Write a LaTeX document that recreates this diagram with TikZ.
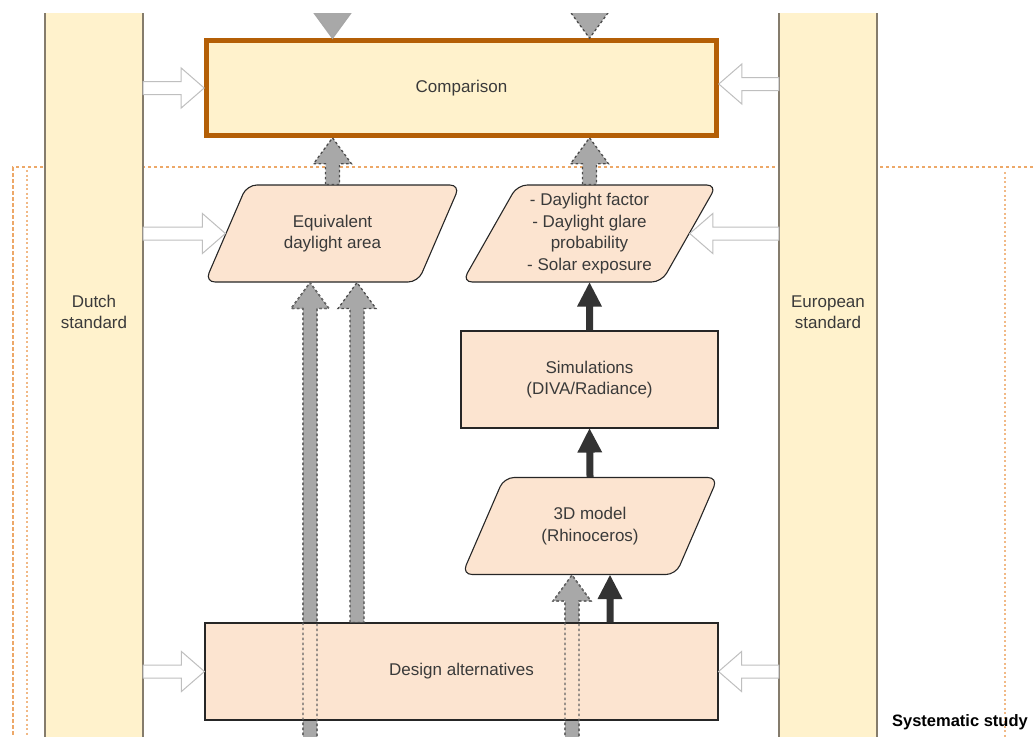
\documentclass[tikz,border=0pt]{standalone}
\usepackage{fontspec}
\setmainfont{Liberation Sans}
\usetikzlibrary{shapes, calc}
\definecolor{barfill}{HTML}{FFF2CC}
\definecolor{barline}{HTML}{857C6C}
\definecolor{peach}{HTML}{FCE4D0}
\definecolor{rust}{HTML}{B45F06}
\definecolor{sysorange}{HTML}{EDA868}
\definecolor{txt}{HTML}{3A3A3A}
\definecolor{darkarrow}{HTML}{333333}
\definecolor{grayarrow}{HTML}{A8A8A8}
\tikzset{block/.style n args={3}{to path={
    let \p1=(\tikztostart), \p2=(\tikztotarget), \p3=($(\p2)!#3!(\p1)$) in
    ($(\p1)!#1!90:(\p2)$) -- ($(\p3)!#1!90:(\p2)$) -- ($(\p3)!#2!90:(\p2)$) -- (\p2)
    -- ($(\p3)!#2!-90:(\p2)$) -- ($(\p3)!#1!-90:(\p2)$) -- ($(\p1)!#1!-90:(\p2)$) -- cycle}}}
\tikzstyle{bar} = [rectangle, fill=barfill, minimum width=98pt, minimum height=780pt, inner sep=0pt]
\tikzstyle{barborder} = [draw=barline, line width=1.6pt]
\tikzstyle{bartext} = [text=txt, align=center]
\tikzstyle{compbox} = [rectangle, draw=rust, line width=4.6pt, fill=barfill, text=txt, minimum width=510pt, minimum height=95pt]
\tikzstyle{pbox} = [rectangle, draw=black!85, line width=1.1pt, fill=peach, text=txt, align=center, minimum width=257pt, minimum height=97pt]
\tikzstyle{io} = [trapezium, trapezium left angle=60, trapezium right angle=120, trapezium stretches=true, rounded corners=10pt, draw=black!85, line width=1.1pt, fill=peach, text=txt, align=center, minimum width=255pt, minimum height=97pt]
\tikzstyle{sysline} = [draw=sysorange, line width=1.5pt, dash pattern=on 3.5pt off 2.5pt]
\tikzstyle{sysdots} = [draw=sysorange!80, line width=1.5pt, dash pattern=on 2pt off 2.5pt]
\tikzstyle{garrow} = [block={7pt}{19pt}{26pt}, fill=grayarrow, draw=black!70, line width=1.3pt, dash pattern=on 2.5pt off 2.5pt]
\tikzstyle{gtrace} = [block={7pt}{19pt}{26pt}, draw=black!60, line width=1.3pt, dash pattern=on 2.5pt off 2.5pt]
\tikzstyle{karrow} = [block={3.5pt}{12.5pt}{24pt}, fill=darkarrow]
\tikzstyle{harrow} = [block={6.5pt}{20pt}{23pt}, fill=white, draw=black!25, line width=1pt]
\begin{document}
\begin{tikzpicture}[x=1pt, y=-1pt, font=\fontsize{17pt}{21.5pt}\selectfont]
    \useasboundingbox (0,0) rectangle (1035,736);
    \clip (0,13) rectangle (1035,736);

    % systematic study frame
    \draw[sysline] (1045,167) -- (13,167) -- (13,745);
    \draw[sysdots] (27,170) -- (27,745);
    \draw[sysdots] (1005,172) -- (1005,745);
    \node[anchor=base east, inner sep=0pt, font=\bfseries\fontsize{16.5pt}{20pt}\selectfont] (sys) at (1028,726) {Systematic study};

    % standards
    \node[bar](dutch) at (94,370) {};
    \node[bar](european) at (828,370) {};
    \draw[barborder] (dutch.north west) -- (dutch.south west) (dutch.north east) -- (dutch.south east);
    \draw[barborder] (european.north west) -- (european.south west) (european.north east) -- (european.south east);
    \node[bartext](dutchtext) at (94,312) {Dutch\\standard};
    \node[bartext](europeantext) at (828,312) {European\\standard};

    \node[compbox](comp) at (461.5,88) {Comparison};
    \node[io](eda) at (332.5,233.5) {Equivalent\\daylight area};
    \node[io](results) at (589.5,233.5) {- Daylight factor\\- Daylight glare\\probability\\- Solar exposure};
    \node[pbox](sim) at (589.5,379.5) {Simulations\\(DIVA/Radiance)};
    \node[io, minimum width=256pt](model) at (590,526) {3D model\\(Rhinoceros)};

    % gray arrows running under the design box
    \coordinate (g1) at (310,760);
    \coordinate (g3) at (572,760);
    \path[garrow] (g1) to (g1 |- eda.south);
    \path[garrow] (g3) to (g3 |- model.south);
    \node[pbox, minimum width=513pt](design) at (461.5,671.5) {Design alternatives};
    \path[gtrace] (g1) to (g1 |- eda.south);
    \path[gtrace] (g3) to (g3 |- model.south);

    \coordinate (g2) at ([xshift=-104.5pt]design.north);
    \path[garrow] (g2) to (g2 |- eda.south);
    \path[garrow] (eda.north) to (eda.north |- comp.south);
    \path[garrow] (results.north) to (results.north |- comp.south);
    \coordinate (t1) at (332.5,-40);
    \coordinate (t2) at (589.5,-40);
    \path[garrow, solid, draw=black!35] (t1) to (t1 |- comp.north);
    \path[garrow] (t2) to (t2 |- comp.north);

    \path[karrow] (sim.north) to (results.south);
    \path[karrow] (model.north) to (sim.south);
    \coordinate (k3) at ([xshift=148.5pt]design.north);
    \path[karrow] (k3) to (k3 |- model.south);

    \coordinate (ce) at ([yshift=4pt]comp.east);
    \path[harrow] (dutch.east |- comp.west) to (comp.west);
    \path[harrow] (dutch.east |- eda.left side) to (eda.left side);
    \path[harrow] (dutch.east |- design.west) to (design.west);
    \path[harrow] (european.west |- ce) to (ce);
    \path[harrow] (european.west |- results.right side) to (results.right side);
    \path[harrow] (european.west |- design.east) to (design.east);
\end{tikzpicture}
\end{document}
